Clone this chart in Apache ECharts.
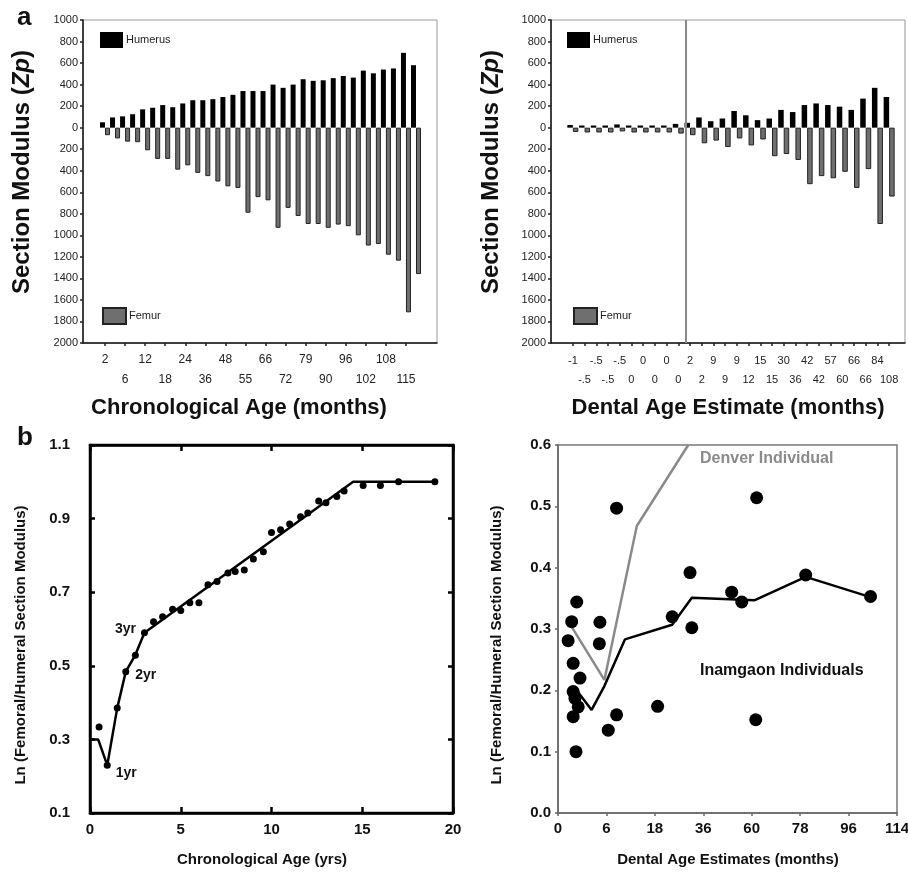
<!DOCTYPE html>
<html>
<head>
<meta charset="utf-8">
<script src="https://cdn.jsdelivr.net/npm/echarts@6/dist/echarts.min.js"></script>
<style>
html, body { margin: 0; padding: 0; background: #fff; }
#chart { width: 908px; height: 873px; }
</style>
</head>
<body>
<div id="chart"></div>
<script>
// panel a (left): chronological age in months, every other bar labelled
var chronoAges = ['2', '', '6', '', '12', '', '18', '', '24', '', '36', '', '48', '', '55', '',
  '66', '', '72', '', '79', '', '90', '', '96', '', '102', '', '108', '', '115', ''];
var chronoHumerus = [50, 95, 105, 125, 170, 185, 210, 190, 225, 255, 255, 265, 285, 305, 340, 340,
  340, 400, 370, 400, 450, 435, 440, 460, 480, 465, 530, 505, 540, 550, 695, 580];
var chronoFemur = [70, 100, 130, 135, 210, 290, 290, 390, 350, 420, 450, 500, 545, 560, 790, 645,
  675, 930, 745, 820, 895, 895, 930, 900, 915, 1000, 1095, 1080, 1180, 1235, 1715, 1360];

// panel a (right): dental age estimate in months
var dentalAges = ['-1', '-.5', '-.5', '-.5', '-.5', '0', '0', '0', '0', '0', '2', '2', '9', '9',
  '9', '12', '15', '15', '30', '36', '42', '42', '57', '60', '66', '66', '84', '108'];
var dentalHumerus = [25, 20, 20, 20, 30, 20, 20, 20, 20, 35, 45, 95, 60, 85,
  155, 115, 70, 85, 165, 145, 210, 225, 210, 195, 165, 270, 370, 285];
var dentalFemur = [40, 45, 45, 45, 35, 45, 45, 45, 45, 55, 70, 145, 120, 180,
  100, 165, 110, 265, 245, 300, 525, 450, 470, 410, 560, 385, 895, 640];
var dentalCutoff = 9.6; // grey divider, in bar-index units

// panel b (left): ln ratio against chronological age (yrs)
var chronoPoints = [[0.5, 0.334], [0.95, 0.23], [1.5, 0.385], [1.97, 0.484], [2.5, 0.529], [3.0, 0.59],
  [3.5, 0.62], [4.0, 0.633], [4.55, 0.654], [5.0, 0.65], [5.5, 0.671], [6.0, 0.671], [6.5, 0.72],
  [7.0, 0.729], [7.6, 0.752], [8.0, 0.756], [8.5, 0.76], [9.0, 0.79], [9.55, 0.81], [10.0, 0.862],
  [10.5, 0.87], [11.0, 0.885], [11.6, 0.905], [12.0, 0.915], [12.6, 0.948], [13.0, 0.943],
  [13.6, 0.96], [14.0, 0.975], [15.05, 0.99], [16.0, 0.99], [17.0, 1.0], [19.0, 1.0]];
var chronoFit = [[0, 0.30], [0.45, 0.30], [0.95, 0.23], [1.5, 0.385], [1.97, 0.484], [2.5, 0.53],
  [3.0, 0.59], [14.5, 1.0], [19.0, 1.0]];
var yearNotes = { 1: '1yr', 3: '2yr', 5: '3yr' };
var chronoYTicks = [0.1, 0.3, 0.5, 0.7, 0.9, 1.1];

// panel b (right): ln ratio against dental age estimate
var dentalPoints = [[19.7, 0.497], [66.8, 0.514], [44.4, 0.392], [38.4, 0.320], [45.0, 0.302],
  [58.4, 0.360], [61.8, 0.344], [83.3, 0.388], [105.1, 0.353], [6.3, 0.344], [4.6, 0.312],
  [14.1, 0.311], [3.4, 0.281], [13.9, 0.276], [5.1, 0.244], [7.4, 0.220], [5.1, 0.198],
  [5.7, 0.187], [6.8, 0.173], [5.1, 0.157], [6.05, 0.100], [16.9, 0.135], [19.7, 0.160],
  [33.5, 0.174], [66.5, 0.152]];
var inamgaonLine = [[5.5, 0.205], [11.3, 0.168], [15.6, 0.207], [22.5, 0.283], [38.4, 0.307],
  [45.0, 0.351], [66.2, 0.347], [83.3, 0.385], [105.1, 0.352]];
var denverLine = [[4.4, 0.305], [15.6, 0.217], [26.5, 0.468], [43.8, 0.6]];
var dentalTickLabels = ['0', '6', '18', '36', '60', '78', '96', '114'];
var dentalXMax = 114;

var FONT = '"Liberation Sans", Arial, Helvetica, sans-serif';
var dentalTickPos = dentalTickLabels.map(function (t, i) {
  return i * dentalXMax / (dentalTickLabels.length - 1);
});

// hidden axis that only draws the black left / bottom frame line
function frameAxis(grid, pos) {
  return {
    type: 'value', gridIndex: grid, position: pos, min: 0, max: 1,
    axisLine: { show: true, onZero: false, lineStyle: { color: '#111', width: 1.5 } },
    axisTick: { show: false }, axisLabel: { show: false }, splitLine: { show: false }
  };
}

function barYAxis(grid, offset) {
  return {
    type: 'value', gridIndex: grid, min: -2000, max: 1000, interval: 200, offset: offset,
    axisLine: { show: false, onZero: false },
    axisTick: { show: true, length: 3, lineStyle: { color: '#222', width: 1.5 } },
    axisLabel: {
      fontSize: 11, color: '#222', margin: 5,
      formatter: function (v) { return Math.abs(v); }
    },
    splitLine: { show: false }
  };
}

function legendAt(name, left, top) {
  return {
    data: [name], left: left, top: top, icon: 'rect', itemWidth: 23, itemHeight: 16,
    selectedMode: false, padding: 0, itemGap: 0,
    textStyle: { fontSize: 11, color: '#222', fontFamily: FONT, padding: [0, 0, 0, -2] }
  };
}

function textAt(text, x, y, font, extra) {
  return Object.assign({
    type: 'text', x: x, y: y,
    style: { text: text, font: font + ' ' + FONT, fill: '#111', textAlign: 'center', textVerticalAlign: 'middle' }
  }, extra || {});
}

var boldAxisLabel = { fontSize: 15, fontWeight: 'bold', color: '#111', fontFamily: FONT };
var zpRich = { i: { fontStyle: 'italic', fontWeight: 'bold', fontSize: 24, fontFamily: FONT } };

var chart = echarts.init(document.getElementById('chart'));

var option = {
  animation: false,
  backgroundColor: '#fff',
  textStyle: { fontFamily: FONT },
  grid: [
    { left: 83, top: 20, width: 354, height: 323, show: true, borderColor: '#999', borderWidth: 1, outerBoundsMode: 'none' },
    { left: 100, top: 20, width: 321, height: 323, outerBoundsMode: 'none' },
    { left: 551, top: 20, width: 354, height: 323, show: true, borderColor: '#999', borderWidth: 1, outerBoundsMode: 'none' },
    { left: 567, top: 20, width: 328, height: 323, outerBoundsMode: 'none' },
    { left: 90, top: 445, width: 363, height: 368, show: true, borderColor: '#000', borderWidth: 2.5, outerBoundsMode: 'none' },
    { left: 558, top: 445, width: 339, height: 368, show: true, borderColor: '#777', borderWidth: 1.5, outerBoundsMode: 'none' }
  ],
  legend: [
    legendAt('Humerus', 100, 32),
    legendAt('Femur', 102, 307),
    legendAt('Humerus', 567, 32),
    legendAt('Femur', 573, 307)
  ],
  xAxis: [
    frameAxis(0, 'bottom'),
    {
      type: 'category', gridIndex: 1, data: chronoAges, boundaryGap: true,
      axisLine: { show: false, onZero: false },
      axisTick: { show: true, alignWithLabel: true, interval: 1, length: 3, lineStyle: { color: '#222', width: 1.5 } },
      axisLabel: {
        interval: 1, fontSize: 12, color: '#222', margin: 7, lineHeight: 20,
        formatter: function (v, i) { return i % 4 === 2 ? '\n' + v : v; }
      }
    },
    frameAxis(2, 'bottom'),
    {
      type: 'category', gridIndex: 3, data: dentalAges, boundaryGap: true,
      axisLine: { show: false, onZero: false },
      axisTick: { show: true, alignWithLabel: true, interval: 0, length: 3, lineStyle: { color: '#222', width: 1.5 } },
      axisLabel: {
        interval: 0, fontSize: 11, color: '#222', margin: 8, lineHeight: 19,
        formatter: function (v, i) { return i % 2 === 1 ? '\n' + v : v; }
      }
    },
    {
      type: 'value', gridIndex: 3, position: 'top', show: false,
      axisLine: { onZero: false },
      min: -0.5, max: dentalAges.length - 0.5
    },
    {
      type: 'value', gridIndex: 4, min: 0, max: 20, interval: 5,
      axisLine: { onZero: false, lineStyle: { color: '#000', width: 2.5 } },
      axisTick: { inside: true, length: 6, lineStyle: { color: '#000', width: 2.5 } },
      axisLabel: Object.assign({ margin: 9 }, boldAxisLabel),
      splitLine: { show: false }
    },
    {
      type: 'value', gridIndex: 4, position: 'top', min: 0, max: 20, interval: 5,
      axisLine: { onZero: false, lineStyle: { color: '#000', width: 2.5 } },
      axisTick: { inside: true, length: 6, lineStyle: { color: '#000', width: 2.5 } },
      axisLabel: { show: false }, splitLine: { show: false }
    },
    {
      type: 'value', gridIndex: 5, min: 0, max: dentalXMax,
      axisLine: { onZero: false, lineStyle: { color: '#666', width: 1.5 } },
      axisTick: { customValues: dentalTickPos, length: 3, lineStyle: { color: '#666', width: 1.5 } },
      axisLabel: Object.assign({
        margin: 8, customValues: dentalTickPos,
        formatter: function (v) {
          return dentalTickLabels[Math.round(v * (dentalTickLabels.length - 1) / dentalXMax)];
        }
      }, boldAxisLabel),
      splitLine: { show: false }
    }
  ],
  yAxis: [
    frameAxis(0, 'left'),
    barYAxis(1, 17),
    frameAxis(2, 'left'),
    barYAxis(3, 16),
    {
      type: 'value', gridIndex: 4, min: 0.1, max: 1.1,
      axisLine: { onZero: false, lineStyle: { color: '#000', width: 2.5 } },
      axisTick: { inside: true, length: 5, customValues: chronoYTicks, lineStyle: { color: '#000', width: 2.5 } },
      axisLabel: Object.assign({
        margin: 20, customValues: chronoYTicks,
        formatter: function (v) { return v.toFixed(1); }
      }, boldAxisLabel),
      splitLine: { show: false }
    },
    {
      type: 'value', gridIndex: 4, position: 'right', min: 0.1, max: 1.1,
      axisLine: { onZero: false, lineStyle: { color: '#000', width: 2.5 } },
      axisTick: { inside: true, length: 5, customValues: chronoYTicks, lineStyle: { color: '#000', width: 2.5 } },
      axisLabel: { show: false }, splitLine: { show: false }
    },
    {
      type: 'value', gridIndex: 5, min: 0, max: 0.6, interval: 0.1,
      axisLine: { onZero: false, lineStyle: { color: '#666', width: 1.5 } },
      axisTick: { length: 3, lineStyle: { color: '#666', width: 1.5 } },
      axisLabel: Object.assign({
        margin: 7,
        formatter: function (v) { return v.toFixed(1); }
      }, boldAxisLabel),
      splitLine: { show: false }
    }
  ],
  series: [
    {
      name: 'Humerus', type: 'bar', xAxisIndex: 1, yAxisIndex: 1,
      data: chronoHumerus, barWidth: 5, barGap: '0%',
      itemStyle: { color: '#000' }
    },
    {
      name: 'Femur', type: 'bar', xAxisIndex: 1, yAxisIndex: 1,
      data: chronoFemur.map(function (v) { return -v; }), barWidth: 5, barGap: '0%',
      itemStyle: { color: '#6f6f6f', borderColor: '#222', borderWidth: 1 }
    },
    {
      name: 'Humerus', type: 'bar', xAxisIndex: 3, yAxisIndex: 3,
      data: dentalHumerus, barWidth: 5.5, barGap: '0%',
      itemStyle: { color: '#000' }
    },
    {
      name: 'Femur', type: 'bar', xAxisIndex: 3, yAxisIndex: 3,
      data: dentalFemur.map(function (v) { return -v; }), barWidth: 5.5, barGap: '0%',
      itemStyle: { color: '#6f6f6f', borderColor: '#222', borderWidth: 1 }
    },
    {
      name: 'cutoff', type: 'line', xAxisIndex: 4, yAxisIndex: 3, data: [],
      markLine: {
        silent: true, symbol: 'none', label: { show: false },
        lineStyle: { color: '#888', width: 2, type: 'solid' },
        data: [{ xAxis: dentalCutoff }]
      }
    },
    {
      name: 'fit', type: 'line', xAxisIndex: 5, yAxisIndex: 4,
      data: chronoFit, showSymbol: false, z: 2,
      lineStyle: { color: '#000', width: 2.5 }
    },
    {
      name: 'chrono points', type: 'scatter', xAxisIndex: 5, yAxisIndex: 4,
      symbolSize: 7, itemStyle: { color: '#000', opacity: 1 }, z: 3,
      data: chronoPoints.map(function (p, i) {
        if (!yearNotes[i]) return p;
        var placement = {
          '1yr': { position: 'right', offset: [0, 8] },
          '2yr': { position: 'right', offset: [1, 3] },
          '3yr': { position: 'left', offset: [0, -4] }
        }[yearNotes[i]];
        return {
          value: p,
          label: Object.assign({
            show: true, formatter: yearNotes[i], distance: 5,
            fontSize: 14, fontWeight: 'bold', color: '#111', fontFamily: FONT
          }, placement)
        };
      })
    },
    {
      name: 'Denver Individual', type: 'line', xAxisIndex: 7, yAxisIndex: 6,
      data: denverLine, showSymbol: false, z: 2,
      lineStyle: { color: '#8a8a8a', width: 2.5 }
    },
    {
      name: 'Inamgaon Individuals', type: 'line', xAxisIndex: 7, yAxisIndex: 6,
      data: inamgaonLine, showSymbol: false, z: 2,
      lineStyle: { color: '#000', width: 2.5 }
    },
    {
      name: 'dental points', type: 'scatter', xAxisIndex: 7, yAxisIndex: 6,
      data: dentalPoints, symbolSize: 13, z: 3,
      itemStyle: { color: '#000', opacity: 1 }
    }
  ],
  graphic: [
    { type: 'text', x: 17, y: 31, style: { text: 'a', font: 'bold 26px ' + FONT, fill: '#111', textVerticalAlign: 'bottom' } },
    { type: 'text', x: 17, y: 451, style: { text: 'b', font: 'bold 26px ' + FONT, fill: '#111', textVerticalAlign: 'bottom' } },
    {
      type: 'text', x: 22, y: 172, rotation: Math.PI / 2,
      style: {
        text: 'Section Modulus ({i|Zp})', font: 'bold 24px ' + FONT, fill: '#111',
        textAlign: 'center', textVerticalAlign: 'middle', rich: zpRich
      }
    },
    {
      type: 'text', x: 491, y: 172, rotation: Math.PI / 2,
      style: {
        text: 'Section Modulus ({i|Zp})', font: 'bold 24px ' + FONT, fill: '#111',
        textAlign: 'center', textVerticalAlign: 'middle', rich: zpRich
      }
    },
    textAt('Chronological Age (months)', 239, 408, 'bold 22px'),
    textAt('Dental Age Estimate (months)', 728, 408, 'bold 22px'),
    textAt('Ln (Femoral/Humeral Section Modulus)', 21, 645, 'bold 15px', { rotation: Math.PI / 2 }),
    textAt('Ln (Femoral/Humeral Section Modulus)', 497, 645, 'bold 15px', { rotation: Math.PI / 2 }),
    textAt('Chronological Age (yrs)', 262, 860, 'bold 15px'),
    textAt('Dental Age Estimates (months)', 728, 860, 'bold 15px'),
    { type: 'text', x: 700, y: 459, style: { text: 'Denver Individual', font: 'bold 16px ' + FONT, fill: '#8a8a8a', textVerticalAlign: 'middle' } },
    { type: 'text', x: 700, y: 671, style: { text: 'Inamgaon Individuals', font: 'bold 16px ' + FONT, fill: '#111', textVerticalAlign: 'middle' } }
  ]
};

chart.setOption(option);
</script>
</body>
</html>
